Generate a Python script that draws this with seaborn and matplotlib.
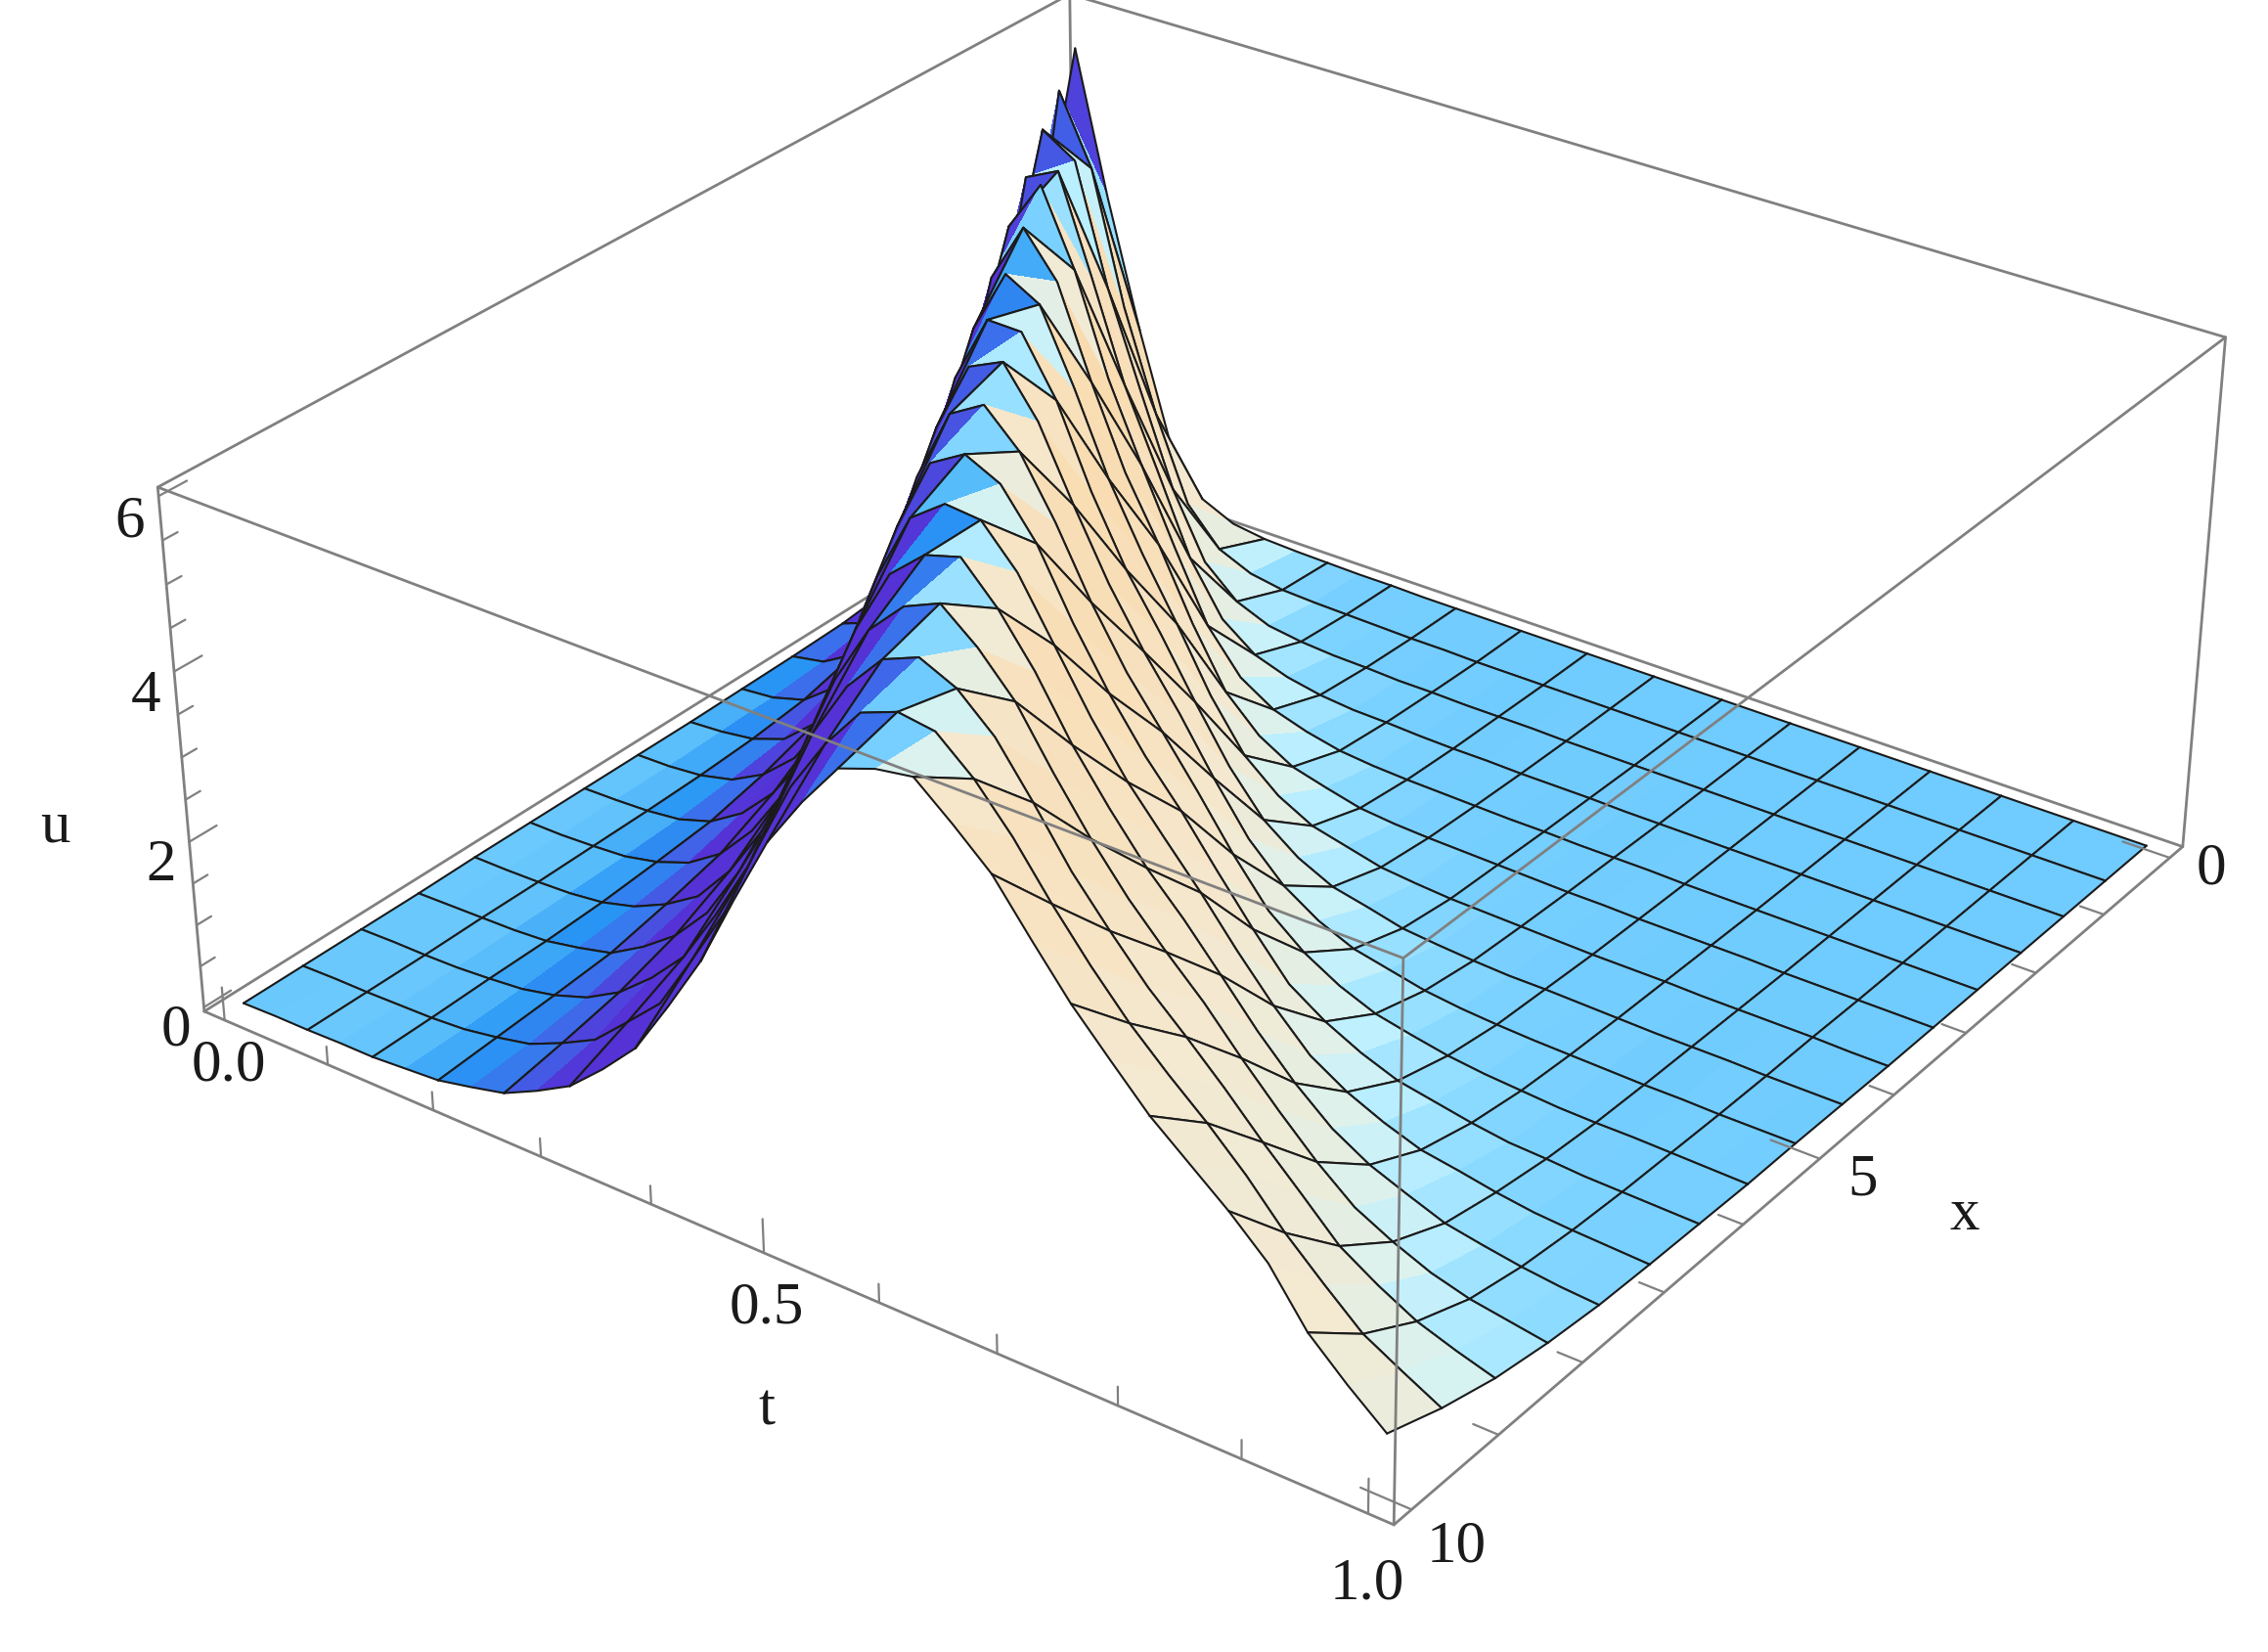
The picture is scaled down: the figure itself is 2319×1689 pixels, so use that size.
import numpy as np
import matplotlib
matplotlib.use('Agg')
import matplotlib.pyplot as plt
import seaborn as sns

sns.set_theme(style='white')
plt.rcParams['font.family'] = ['Liberation Serif', 'DejaVu Serif']

# sample positions: 16 mesh cells in x, 16 in t (t sampled twice per cell)
t_values = np.arange(33) / 32
x_values = np.arange(17) * 10 / 16

# u along t, one list per x line
u_x00 = [5.6, 3.83, 2.25, .86, .3, .11, .05, .03, .02, .01, .01] + [0] * 22
u_x01 = [2.73, 5.52, 4.67, 3.04, 1.79, .76, .31, .13, .06, .04, .03, .02, .01, .01] + [0] * 19
u_x02 = [.87, 2.97, 5.49, 5.23, 3.76, 2.6, 1.48, .68, .31, .14, .08, .05, .04, .02, .02, .01, .01, .01] + [0] * 15
u_x03 = [.3, 1.17, 3.16, 5.37, 5.57, 4.4, 3.18, 2.24, 1.27, .63, .32, .18, .1, .06, .05, .03, .02, .02, .01, .01, .01, 0, 0, 0, 0, 0, 0, 0, 0, 0, 0, 0, 0]
u_x04 = [.13, .51, 1.4, 3.3, 5.24, 5.87, 4.97, 3.77, 2.83, 1.94, 1.1, .59, .33, .2, .11, .07, .05, .04, .03, .02, .02, .01, .01, .01, 0, 0, 0, 0, 0, 0, 0, 0, 0]
u_x05 = [.06, .22, .67, 1.68, 3.37, 5.1, 5.83, 5.31, 4.23, 3.26, 2.51, 1.68, .97, .57, .33, .22, .12, .08, .06, .05, .04, .03, .02, .02, .01, .01, .01, .01, 0, 0, 0, 0, 0]
u_x06 = [.04, .12, .36, .89, 1.89, 3.43, 4.98, 5.76, 5.53, 4.67, 3.71, 2.93, 2.23, 1.49, .9, .55, .33, .23, .13, .09, .06, .05, .04, .03, .02, .02, .02, .01, .01, .01, .01, 0, 0]
u_x07 = [.03, .07, .19, .5, 1.07, 2.07, 3.48, 4.89, 5.71, 5.7, 5.03, 4.08, 3.29, 2.66, 1.98, 1.34, .84, .53, .33, .24, .14, .1, .07, .05, .05, .04, .03, .02, .02, .02, .01, .01, .01]
u_x08 = [.02, .05, .11, .26, .61, 1.22, 2.21, 3.52, 4.81, 5.66, 5.85, 5.29, 4.45, 3.66, 3, 2.42, 1.78, 1.2, .79, .52, .34, .25, .16, .11, .08, .06, .05, .04, .03, .03, .02, .02, .02]
u_x09 = [.02, .03, .07, .17, .39, .75, 1.34, 2.32, 3.55, 4.75, 5.62, 5.86, 5.46, 4.78, 3.99, 3.31, 2.76, 2.2, 1.61, 1.09, .75, .51, .34, .25, .17, .12, .09, .06, .05, .05, .04, .03, .02]
u_x10 = [.02, .03, .05, .1, .23, .49, .9, 1.48, 2.42, 3.58, 4.7, 5.57, 5.81, 5.61, 5.07, 4.3, 3.63, 3.05, 2.56, 2.01, 1.48, .99, .71, .5, .34, .26, .18, .12, .1, .07, .06, .05, .04]
u_x11 = [.02, .02, .04, .07, .16, .31, .58, 1.02, 1.63, 2.51, 3.6, 4.65, 5.47, 5.77, 5.73, 5.28, 4.6, 3.92, 3.33, 2.84, 2.36, 1.84, 1.36, .94, .68, .49, .34, .27, .19, .13, .1, .08, .06]
u_x12 = [.02, .02, .03, .05, .1, .21, .4, .66, 1.13, 1.76, 2.58, 3.63, 4.61, 5.37, 5.73, 5.85, 5.42, 4.86, 4.18, 3.61, 3.09, 2.66, 2.18, 1.69, 1.26, .9, .65, .48, .32, .24, .17, .12, .09]
u_x13 = [.01, .02, .03, .04, .07, .15, .25, .49, .79, 1.23, 1.88, 2.65, 3.64, 4.58, 5.29, 5.7, 5.88, 5.54, 5.09, 4.45, 3.86, 3.34, 2.9, 2.49, 2.02, 1.58, 1.17, .82, .6, .42, .3, .23, .16]
u_x14 = [.01, .02, .02, .03, .06, .1, .19, .33, .56, .9, 1.32, 1.98, 2.71, 3.66, 4.55, 5.22, 5.67, 5.84, 5.65, 5.27, 4.7, 4.09, 3.59, 3.12, 2.73, 2.32, 1.88, 1.47, 1.05, .78, .55, .4, .27]
u_x15 = [.01, .02, .02, .03, .04, .07, .14, .23, .41, .62, 1, 1.39, 2.07, 2.78, 3.67, 4.52, 5.15, 5.65, 5.81, 5.75, 5.39, 4.91, 4.34, 3.82, 3.35, 2.95, 2.58, 2.17, 1.7, 1.3, .92, .68, .45]
u_x16 = [.01, .02, .02, .03, .03, .06, .09, .18, .28, .48, .71, 1.08, 1.5, 2.15, 2.84, 3.69, 4.5, 5.1, 5.62, 5.77, 5.84, 5.49, 5.11, 4.56, 4.03, 3.58, 3.14, 2.79, 2.44, 2.04, 1.45, 1.05, .69]

t_ticks = [0, .1, .2, .3, .4, .5, .6, .7, .8, .9, 1]
x_ticks = [0, 1, 2, 3, 4, 5, 6, 7, 8, 9, 10]
u_ticks = [0, .5, 1, 1.5, 2, 2.5, 3, 3.5, 4, 4.5, 5, 5.5, 6]
t_labels = ['0.0', '0.5', '1.0']
x_labels = ['0', '5', '10']
u_labels = ['0', '2', '4', '6']

U = np.array([u_x00, u_x01, u_x02, u_x03, u_x04, u_x05, u_x06, u_x07, u_x08,
              u_x09, u_x10, u_x11, u_x12, u_x13, u_x14, u_x15, u_x16])
T, X = np.meshgrid(t_values, x_values)
T_LIM = (-0.02, 1.02)
X_LIM = (10.2, -0.2)
Z_LIM = (-0.05, 6.1)
BOX_Z = 0.41
GREY = '#808080'
FS = 22

# colour each facet by how far it faces the t end of the box
shade_stops = [-.5, -.33, -.17, -.05, .02, .1, .22, .3, .45, .6]
shade = sns.blend_palette(['#5532d6', '#3c6eeb', '#2896f5', '#5dc0fb', '#78d0ff', '#8fdcff', '#bdf0ff', '#dcf2ee', '#f5e8cf', '#fad8a8'],
                          n_colors=256, as_cmap=True)
zk = BOX_Z / 6.15
du_t = np.diff(U, axis=1) * 32 * zk
du_x = np.diff(U, axis=0) * 1.6 * 10.4 * zk
du_t = (du_t[:-1] + du_t[1:]) / 2
du_x = (du_x[:, :-1] + du_x[:, 1:]) / 2
facing = -(du_t + 0.3 * du_x) / np.sqrt(1 + du_t ** 2 + du_x ** 2)
pad = np.pad(facing, 1, mode='edge')
facing = (pad[1:-1, 1:-1] * 2 + pad[:-2, 1:-1] + pad[2:, 1:-1] + pad[1:-1, :-2] + pad[1:-1, 2:]
          + pad[:-2, :-2] + pad[2:, 2:]) / 8
cell_colors = shade(np.interp(facing, shade_stops, np.linspace(0, 1, len(shade_stops))))

fig = plt.figure(figsize=(11.595, 8.45), dpi=200)
ax = fig.add_axes([-0.081, -0.2545, 1.2, 1.647], projection='3d')
ax.set_proj_type('persp', focal_length=0.45)
ax.view_init(elev=29.5, azim=-54)
ax.set_box_aspect((1, 1, BOX_Z), zoom=0.76)
ax.set_xlim(*T_LIM)
ax.set_ylim(*X_LIM)
ax.set_zlim(*Z_LIM)
ax.set_axis_off()
ax.computed_zorder = False


def edge(p, q, z):
    ax.plot([p[0], q[0]], [p[1], q[1]], [p[2], q[2]], color=GREY, lw=1.0, zorder=z)


t0, t1 = T_LIM
x1, x0 = X_LIM
zb, zt = Z_LIM
# back edges, behind the surface
edge((t0, x1, zb), (t0, x0, zb), 1)
edge((t0, x0, zb), (t1, x0, zb), 1)
edge((t0, x0, zb), (t0, x0, zt), 1)
edge((t0, x0, zt), (t0, x1, zt), 1)
edge((t0, x0, zt), (t1, x0, zt), 1)

# paint cell by cell from the far corner so the mesh lines hide properly
z = 2
for i in range(16):
    for k in range(16):
        j = 2 * k
        c = np.zeros((2, 3, 4))
        c[0, :2] = cell_colors[i, j:j + 2]
        ax.plot_surface(T[i:i + 2, j:j + 3], X[i:i + 2, j:j + 3], U[i:i + 2, j:j + 3], facecolors=c,
                        rstride=1, cstride=1, shade=False, linewidth=0, antialiased=False, zorder=z)
        z += 1
        for r in (i, i + 1):
            ax.plot(T[r, j:j + 3], X[r, j:j + 3], U[r, j:j + 3], color='k', lw=0.75, zorder=z)
        for q in (j, j + 2):
            ax.plot(T[i:i + 2, q], X[i:i + 2, q], U[i:i + 2, q], color='k', lw=0.75, zorder=z)
        z += 1

# front edges
edge((t0, x1, zb), (t1, x1, zb), z)
edge((t1, x1, zb), (t1, x0, zb), z)
edge((t0, x1, zb), (t0, x1, zt), z)
edge((t1, x0, zb), (t1, x0, zt), z)
edge((t1, x1, zb), (t1, x1, zt), z)
edge((t0, x1, zt), (t1, x1, zt), z)
edge((t1, x1, zt), (t1, x0, zt), z)

for n, v in enumerate(t_ticks):
    ax.plot([v, v], [x1, x1], [zb, zb + (.4 if n % 5 == 0 else .22)], color=GREY, lw=.8, zorder=z)
for n, v in enumerate(x_ticks):
    ax.plot([t1, t1 - (.04 if n % 5 == 0 else .02)], [v, v], [zb, zb], color=GREY, lw=.8, zorder=z)
for n, v in enumerate(u_ticks):
    ax.plot([t0, t0], [x1, x1 - (.28 if n % 4 == 0 else .15)], [v, v], color=GREY, lw=.8, zorder=z)

for v, s, d in zip(t_ticks[::5], t_labels, [-.6, -.7, -.85]):
    ax.text(v, x1, d, s, fontsize=FS, ha='center', va='center', color='k', zorder=z + 1)
for v, s, d in zip(x_ticks[::5], x_labels, [0, -.1, -.25]):
    ax.text(t1 + .035, v, d, s, fontsize=FS, ha='center', va='center', color='k', zorder=z + 1)
for v, s in zip(u_ticks[::4], u_labels):
    ax.text(t0 - .015, x1 + .15, v - .25, s, fontsize=FS, ha='center', va='center', color='k', zorder=z + 1)
for s, px, py in [('t', 530, 975), ('x', 1358, 840), ('u', 38, 572)]:
    fig.text(px / 1568, 1 - py / 1143, s, fontsize=FS, ha='center', va='center', color='k')

fig.savefig('out.png', dpi=200)
